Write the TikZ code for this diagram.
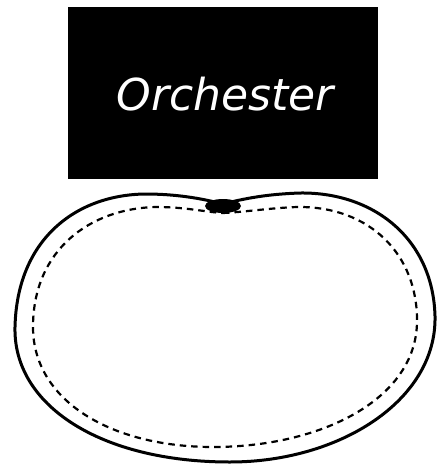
\documentclass[tikz,border=0pt]{standalone}
\usepackage{fontspec}
\newfontfamily\labelfont{DejaVu Sans}
\begin{document}
\begin{tikzpicture}[x=1pt,y=-1pt,
  outerline/.style={line width=3pt,line join=round},
  innerline/.style={line width=2.2pt,dash pattern=on 6.5pt off 5pt},
  stage/.style={fill=black,draw=none}]
\useasboundingbox (0,0) rectangle (442,464);
\fill[stage] (68,7) rectangle (378,179);
\node[anchor=base,text=white,inner sep=0pt,font=\labelfont\itshape\fontsize{44}{50}\selectfont] (title) at (225,110) {Orchester};
% outer wall
\draw[outerline] (223,204) .. controls (250,197) and (272,194) .. (300,193)
  .. controls (375,192) and (433,240) .. (435,316)
  .. controls (437,400) and (340,462) .. (230,462)
  .. controls (100,462) and (13,405) .. (15,327)
  .. controls (17,240) and (75,195) .. (145,194)
  .. controls (175,194) and (200,198) .. (223,204) -- cycle;
% dashed inner line
\draw[innerline] (223,213) .. controls (245,212) and (270,208) .. (297,207)
  .. controls (370,206) and (418,255) .. (417,322)
  .. controls (416,400) and (320,447) .. (213,447)
  .. controls (110,447) and (33,400) .. (33,327)
  .. controls (33,250) and (90,208) .. (157,207)
  .. controls (185,207) and (205,212) .. (223,213) -- cycle;
\fill[stage] (223,206) ellipse (18 and 7);
\end{tikzpicture}
\end{document}
